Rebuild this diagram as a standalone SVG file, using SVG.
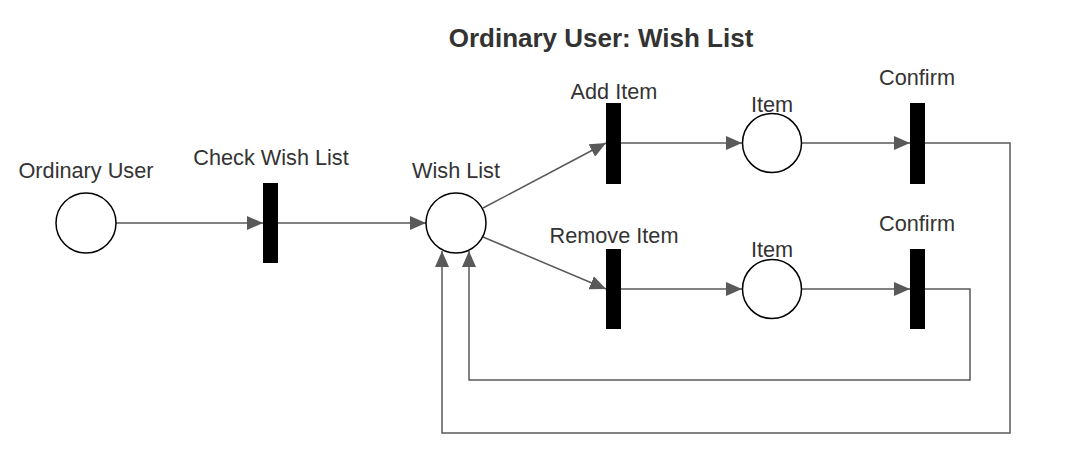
<svg xmlns="http://www.w3.org/2000/svg" width="1081" height="475" viewBox="0 0 1081 475">
<style>
.place{fill:#ffffff;stroke:#000000;stroke-width:1.5}
.trans{fill:#000000;stroke:none}
.lbl{font-family:"Liberation Sans",Arial,sans-serif;font-size:21.7px;fill:#333333;text-anchor:middle}
.title{font-family:"Liberation Sans",Arial,sans-serif;font-size:26px;font-weight:bold;fill:#333333;text-anchor:middle}
.edge{fill:none;stroke:#595959;stroke-width:1.5}
</style>
<defs>
<marker id="arr" viewBox="0 0 10 10" refX="10" refY="5" markerWidth="10" markerHeight="10" markerUnits="userSpaceOnUse" orient="auto">
<path d="M0,0 L10,5 L0,10 Z" fill="#595959"/>
</marker>
<marker id="arrB" viewBox="0 0 16 14" refX="16" refY="7" markerWidth="16" markerHeight="14" markerUnits="userSpaceOnUse" orient="auto">
<path d="M0,0 L16,7 L0,14 Z" fill="#595959"/>
</marker>
</defs>
<rect width="1081" height="475" fill="#ffffff"/>
<text class="title" x="601" y="46.5">Ordinary User: Wish List</text>
<g id="connectors">
<path class="edge" d="M116,223 H263" marker-end="url(#arrB)"/>
<path class="edge" d="M278,223 H426" marker-end="url(#arrB)"/>
<path class="edge" d="M483,208 L606,143" marker-end="url(#arrB)"/>
<path class="edge" d="M483,237 L606,289" marker-end="url(#arrB)"/>
<path class="edge" d="M621,143 H742" marker-end="url(#arrB)"/>
<path class="edge" d="M621,289 H742" marker-end="url(#arrB)"/>
<path class="edge" d="M802,143 H910" marker-end="url(#arrB)"/>
<path class="edge" d="M802,289 H910" marker-end="url(#arrB)"/>
<path class="edge" d="M925,143 H1010 V433 H442 V251" marker-end="url(#arrB)"/>
<path class="edge" d="M925,289 H970 V380 H469 V251" marker-end="url(#arrB)"/>
</g>
<g id="ordinary-user">
<circle class="place" cx="86" cy="223" r="30"/>
<text class="lbl" x="86" y="178">Ordinary User</text>
</g>
<g id="check-wish-list">
<rect class="trans" x="263" y="183" width="15" height="80"/>
<text class="lbl" x="271" y="165">Check Wish List</text>
</g>
<g id="wish-list">
<circle class="place" cx="456" cy="223" r="30"/>
<text class="lbl" x="456" y="178">Wish List</text>
</g>
<g id="add-item">
<rect class="trans" x="606" y="103" width="15" height="81"/>
<text class="lbl" x="614" y="99">Add Item</text>
</g>
<g id="remove-item">
<rect class="trans" x="606" y="249" width="15" height="80"/>
<text class="lbl" x="614" y="243">Remove Item</text>
</g>
<g id="item-add">
<circle class="place" cx="772" cy="143" r="29.5"/>
<text class="lbl" x="772" y="112">Item</text>
</g>
<g id="item-remove">
<circle class="place" cx="772" cy="289" r="29.5"/>
<text class="lbl" x="772" y="257">Item</text>
</g>
<g id="confirm-add">
<rect class="trans" x="910" y="103" width="15" height="81"/>
<text class="lbl" x="917" y="85">Confirm</text>
</g>
<g id="confirm-remove">
<rect class="trans" x="910" y="249" width="15" height="80"/>
<text class="lbl" x="917" y="231">Confirm</text>
</g>
</svg>
